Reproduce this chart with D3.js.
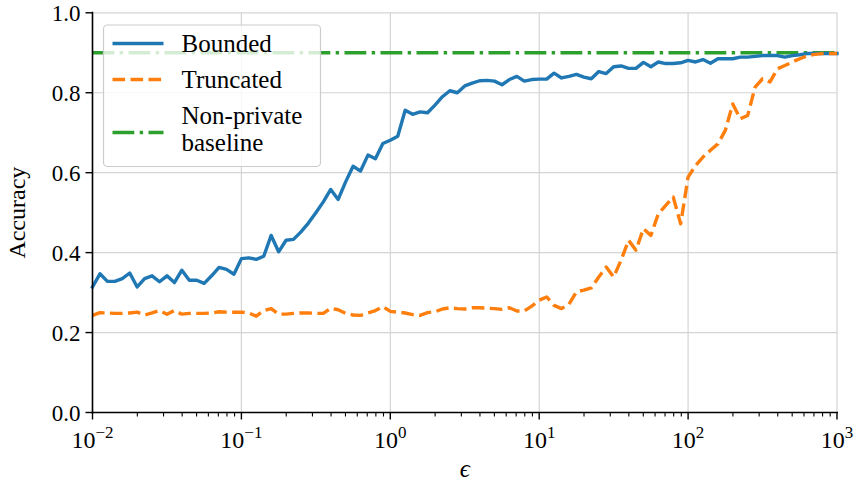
<!DOCTYPE html>
<html>
<head>
<meta charset="utf-8">
<script src="https://cdn.jsdelivr.net/npm/d3@7"></script>
<style>
  html, body { margin: 0; padding: 0; background: #fff; }
  svg { display: block; }
  text { font-family: "Liberation Serif", "DejaVu Serif", serif; fill: #000; }
</style>
</head>
<body>
<svg id="chart" width="856" height="485"></svg>
<script>
// ---- data ----
const epsExpMin = -2, epsExpMax = 3, nPoints = 101; // log-spaced epsilon grid exponents
const boundedAcc = [
  0.314, 0.347, 0.328, 0.328, 0.335, 0.349, 0.314, 0.335, 0.342, 0.327, 0.342, 0.325, 0.356, 0.331, 0.331, 0.323, 0.342, 0.363, 0.358, 0.346, 0.385,
  0.387, 0.383, 0.391, 0.443, 0.402, 0.431, 0.433, 0.452, 0.474, 0.500, 0.527, 0.558, 0.533, 0.577, 0.616, 0.604, 0.644, 0.635, 0.673, 0.681,
  0.691, 0.756, 0.746, 0.752, 0.750, 0.769, 0.790, 0.805, 0.800, 0.817, 0.824, 0.830, 0.831, 0.829, 0.820, 0.833, 0.841, 0.829, 0.833, 0.834,
  0.834, 0.849, 0.837, 0.841, 0.846, 0.839, 0.835, 0.853, 0.848, 0.865, 0.867, 0.861, 0.861, 0.876, 0.865, 0.877, 0.873, 0.873, 0.875, 0.881,
  0.877, 0.883, 0.874, 0.885, 0.885, 0.885, 0.889, 0.889, 0.891, 0.893, 0.893, 0.893, 0.889, 0.893, 0.895, 0.898, 0.898, 0.898, 0.898, 0.898
];
const truncatedAcc = [
  0.243, 0.250, 0.249, 0.248, 0.248, 0.249, 0.251, 0.244, 0.249, 0.255, 0.246, 0.255, 0.246, 0.248, 0.248, 0.248, 0.249, 0.252, 0.251, 0.251, 0.251,
  0.249, 0.241, 0.255, 0.260, 0.246, 0.246, 0.248, 0.249, 0.249, 0.248, 0.248, 0.261, 0.257, 0.248, 0.244, 0.243, 0.249, 0.255, 0.265, 0.253,
  0.251, 0.249, 0.245, 0.243, 0.250, 0.252, 0.259, 0.262, 0.260, 0.259, 0.262, 0.262, 0.261, 0.260, 0.258, 0.262, 0.254, 0.254, 0.266, 0.281,
  0.289, 0.268, 0.260, 0.271, 0.302, 0.306, 0.312, 0.339, 0.364, 0.339, 0.381, 0.431, 0.406, 0.460, 0.443, 0.497, 0.518, 0.539, 0.472, 0.589,
  0.618, 0.639, 0.656, 0.672, 0.706, 0.772, 0.735, 0.743, 0.814, 0.835, 0.827, 0.860, 0.868, 0.877, 0.885, 0.892, 0.896, 0.898, 0.898, 0.898
];
const baselineAcc = 0.9;
const xTickExps = [-2, -1, 0, 1, 2, 3];
const yTicks = [0.0, 0.2, 0.4, 0.6, 0.8, 1.0];
const seriesNames = ["Bounded", "Truncated", "Non-private", "baseline"];
const colors = { bounded: "#1f77b4", truncated: "#ff7f0e", baseline: "#2ca02c" };

const epsilons = d3.range(nPoints).map(i => Math.pow(10, epsExpMin + (epsExpMax - epsExpMin) * i / (nPoints - 1)));

// ---- layout ----
const svg = d3.select("#chart");
const m = { left: 92.5, right: 837, top: 12.8, bottom: 412.5 };
const x = d3.scaleLog().domain([1e-2, 1e3]).range([m.left, m.right]);
const y = d3.scaleLinear().domain([0, 1]).range([m.bottom, m.top]);

// grid
const grid = svg.append("g").attr("stroke", "#d4d4d4").attr("stroke-width", 1.2);
xTickExps.forEach(e => grid.append("line")
  .attr("x1", x(Math.pow(10, e))).attr("x2", x(Math.pow(10, e)))
  .attr("y1", m.bottom).attr("y2", m.top));
yTicks.forEach(v => grid.append("line")
  .attr("x1", m.left).attr("x2", m.right)
  .attr("y1", y(v)).attr("y2", y(v)));

// lines
const line = d3.line().x(d => x(d[0])).y(d => y(d[1]));
const lw = 3.4;
svg.append("path")
  .datum([[1e-2, baselineAcc], [1e3, baselineAcc]])
  .attr("d", line).attr("fill", "none").attr("stroke", colors.baseline)
  .attr("stroke-width", lw).attr("stroke-dasharray", "21.8,5.4,3.4,5.4");
svg.append("path")
  .datum(epsilons.map((e, i) => [e, boundedAcc[i]]))
  .attr("d", line).attr("fill", "none").attr("stroke", colors.bounded)
  .attr("stroke-width", lw).attr("stroke-linejoin", "round").attr("stroke-linecap", "square");
svg.append("path")
  .datum(epsilons.map((e, i) => [e, truncatedAcc[i]]))
  .attr("d", line).attr("fill", "none").attr("stroke", colors.truncated)
  .attr("stroke-width", lw).attr("stroke-linejoin", "round").attr("stroke-dasharray", "12.6,5.4");

// axes
const xAxisG = svg.append("g").attr("transform", `translate(0,${m.bottom})`);
const minorTicks = [];
for (let e = -2; e < 3; e++) for (let k = 2; k <= 9; k++) minorTicks.push(k * Math.pow(10, e));
xAxisG.selectAll("line.minor").data(minorTicks).enter().append("line")
  .attr("x1", d => x(d)).attr("x2", d => x(d)).attr("y1", 0).attr("y2", 4)
  .attr("stroke", "#000").attr("stroke-width", 1.1);
xAxisG.selectAll("line.major").data(xTickExps).enter().append("line")
  .attr("x1", d => x(Math.pow(10, d))).attr("x2", d => x(Math.pow(10, d))).attr("y1", 0).attr("y2", 7)
  .attr("stroke", "#000").attr("stroke-width", 1.4);
const xt = xAxisG.selectAll("text.tick").data(xTickExps).enter().append("text")
  .attr("x", d => x(Math.pow(10, d))).attr("y", 35)
  .attr("text-anchor", "middle").attr("font-size", 24);
xt.append("tspan").text("10");
xt.append("tspan").attr("font-size", 17).attr("dy", -10)
  .text(d => d < 0 ? "\u2212" + Math.abs(d) : String(d));
xAxisG.append("line").attr("x1", m.left - 1).attr("x2", m.right + 1).attr("y1", 0).attr("y2", 0)
  .attr("stroke", "#000").attr("stroke-width", 1.6);

const yAxisG = svg.append("g").attr("transform", `translate(${m.left},0)`);
yAxisG.selectAll("line.tk").data(yTicks).enter().append("line")
  .attr("x1", -7).attr("x2", 0).attr("y1", d => y(d)).attr("y2", d => y(d))
  .attr("stroke", "#000").attr("stroke-width", 1.4);
yAxisG.selectAll("text.tk").data(yTicks).enter().append("text")
  .attr("x", -12).attr("y", d => y(d) + 8)
  .attr("text-anchor", "end").attr("font-size", 23)
  .text(d => d3.format(".1f")(d));
yAxisG.append("line").attr("x1", 0).attr("x2", 0).attr("y1", m.top - 1).attr("y2", m.bottom + 1)
  .attr("stroke", "#000").attr("stroke-width", 1.6);

// axis labels
svg.append("text").attr("x", (m.left + m.right) / 2).attr("y", 477)
  .attr("text-anchor", "middle").attr("font-size", 25).attr("font-style", "italic").text("\u03F5");
svg.append("text").attr("transform", `translate(25,${(m.top + m.bottom) / 2}) rotate(-90)`)
  .attr("text-anchor", "middle").attr("font-size", 24).text("Accuracy");

// legend
const lg = svg.append("g");
lg.append("rect").attr("x", 103.5).attr("y", 25).attr("width", 217).attr("height", 141.5)
  .attr("rx", 4).attr("fill", "#fff").attr("fill-opacity", 0.8)
  .attr("stroke", "#cccccc").attr("stroke-width", 1.2);
const legendItems = [
  { color: colors.bounded, dash: null, y: 43.5, labels: [seriesNames[0]] },
  { color: colors.truncated, dash: "12.6,5.4", y: 79.5, labels: [seriesNames[1]] },
  { color: colors.baseline, dash: "21.8,5.4,3.4,5.4", y: 132.5, labels: [seriesNames[2], seriesNames[3]] }
];
legendItems.forEach(it => {
  lg.append("line").attr("x1", 112.5).attr("x2", 163.5).attr("y1", it.y).attr("y2", it.y)
    .attr("stroke", it.color).attr("stroke-width", lw)
    .attr("stroke-dasharray", it.dash);
  if (it.labels.length === 1) {
    lg.append("text").attr("x", 181.5).attr("y", it.y + 8).attr("font-size", 25).text(it.labels[0]);
  } else {
    lg.append("text").attr("x", 181.5).attr("y", it.y - 8.5).attr("font-size", 25).text(it.labels[0]);
    lg.append("text").attr("x", 181.5).attr("y", it.y + 18.5).attr("font-size", 25).text(it.labels[1]);
  }
});
</script>
</body>
</html>
